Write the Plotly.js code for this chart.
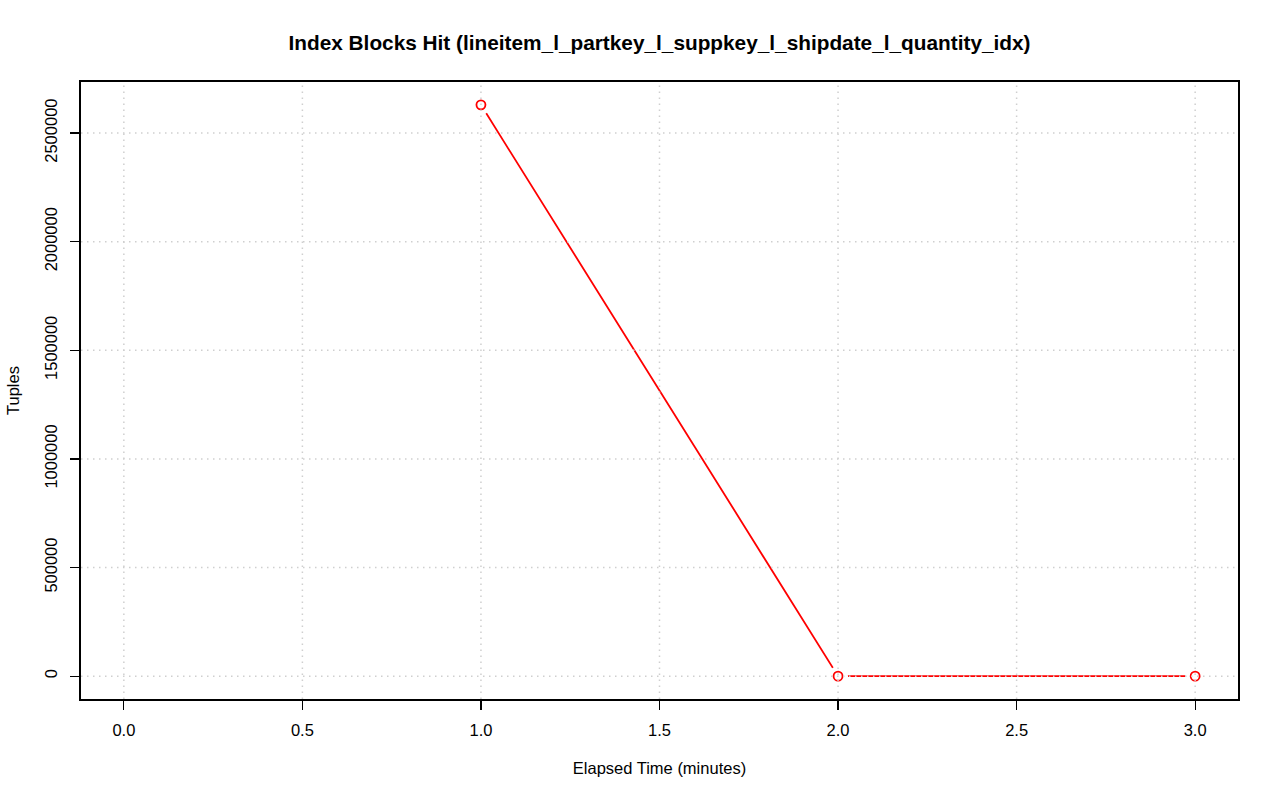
<!DOCTYPE html>
<html><head><meta charset="utf-8">
<script src="https://cdn.plot.ly/plotly-3.0.1.min.js"></script>
<style>body{margin:0;background:#fff}#c{width:1280px;height:801px}</style>
</head><body><div id="c"></div>
<script>
const minutes = [1, 2, 3];
const tuples = [2630000, 0, 0];
const xTicks = [0, 0.5, 1, 1.5, 2, 2.5, 3];
const xTickLabels = ["0.0", "0.5", "1.0", "1.5", "2.0", "2.5", "3.0"];
const yTicks = [0, 500000, 1000000, 1500000, 2000000, 2500000];
const yTickLabels = ["0", "500000", "1000000", "1500000", "2000000", "2500000"];

const font = "Liberation Sans, Arial, Helvetica, sans-serif";
const traces = [
  {x: minutes, y: tuples, mode: 'lines', line: {color: '#ff0000', width: 1.8}, hoverinfo: 'skip'},
  {x: minutes, y: tuples, mode: 'markers', marker: {color: '#ffffff', size: 20, line: {width: 0}}, hoverinfo: 'skip'},
  {x: minutes, y: tuples, mode: 'markers', marker: {symbol: 'circle-open', color: '#ff0000', size: 9, line: {width: 1.8, color: '#ff0000'}}}
];
const gridLine = {color: '#cfcfcf', width: 1.5, dash: '1.5px,4.5px'};
const shapes = [];
xTicks.forEach(v => shapes.push({type: 'line', layer: 'above', xref: 'x', yref: 'paper', x0: v, x1: v, y0: 0, y1: 1, line: gridLine}));
yTicks.forEach(v => shapes.push({type: 'line', layer: 'above', xref: 'paper', yref: 'y', x0: 0, x1: 1, y0: v, y1: v, line: gridLine}));

const layout = {
  width: 1280, height: 801,
  margin: {l: 81, r: 42, t: 82, b: 102},
  paper_bgcolor: '#fff', plot_bgcolor: '#fff',
  showlegend: false,
  font: {family: font, color: '#000', size: 16.5},
  title: {text: '<b>Index Blocks Hit (lineitem_l_partkey_l_suppkey_l_shipdate_l_quantity_idx)</b>', font: {family: font, size: 20.8, color: '#000'}, xref: 'paper', x: 0.5, xanchor: 'center', y: 0.947, yanchor: 'middle'},
  xaxis: {
    range: [-0.12, 3.12], showgrid: false, zeroline: false,
    tickmode: 'array', tickvals: xTicks, ticktext: xTickLabels,
    ticks: 'outside', ticklen: 9, tickwidth: 1.2, tickcolor: '#000',
    showline: true, mirror: true, linecolor: '#000', linewidth: 1.8,
    tickfont: {size: 16.5, family: font}, ticklabelstandoff: 6,
    title: {text: 'Elapsed Time (minutes)', font: {size: 16.5, family: font}, standoff: 25}
  },
  yaxis: {
    range: [-105200, 2735200], showgrid: false, zeroline: false,
    tickmode: 'array', tickvals: yTicks, ticktext: yTickLabels,
    ticks: 'outside', ticklen: 9, tickwidth: 1.2, tickcolor: '#000',
    showline: true, mirror: true, linecolor: '#000', linewidth: 1.8,
    tickangle: -90, ticklabelstandoff: 7,
    tickfont: {size: 16.5, family: font},
    title: {text: 'Tuples', font: {size: 16.5, family: font}, standoff: 18}
  },
  shapes: shapes
};
Plotly.newPlot('c', traces, layout, {displayModeBar: false, staticPlot: true});
</script></body></html>
